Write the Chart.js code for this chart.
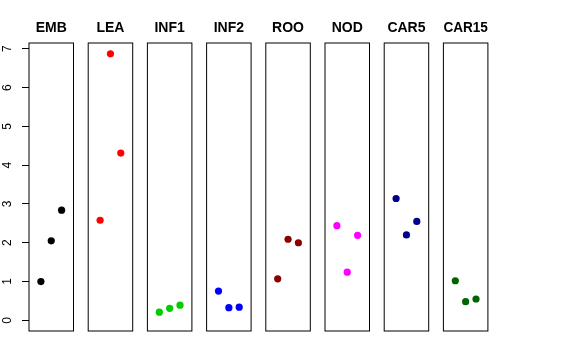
<!DOCTYPE html>
<html>
<head>
<meta charset="utf-8">
<script src="https://cdn.jsdelivr.net/npm/chart.js@4/dist/chart.umd.min.js"></script>
<style>
  html, body { margin: 0; padding: 0; background: #fff; }
  #wrap { position: relative; width: 576px; height: 360px; overflow: hidden; }
  #wrap canvas { position: absolute; left: 0; top: 0; }
</style>
</head>
<body>
<div id="wrap"></div>
<script>
// ---- data ----
const categories = ['EMB', 'LEA', 'INF1', 'INF2', 'ROO', 'NOD', 'CAR5', 'CAR15'];
const embValues   = [1.00, 2.05, 2.84];
const leaValues   = [2.58, 6.87, 4.31];
const inf1Values  = [0.21, 0.31, 0.39];
const inf2Values  = [0.755, 0.325, 0.34];
const rooValues   = [1.07, 2.09, 2.00];
const nodValues   = [2.44, 1.24, 2.19];
const car5Values  = [3.14, 2.20, 2.55];
const car15Values = [1.02, 0.48, 0.55];
const seriesValues = [embValues, leaValues, inf1Values, inf2Values, rooValues, nodValues, car5Values, car15Values];
const seriesColors = ['#000000', '#FF0000', '#00CD00', '#0000FF', '#8B0000', '#FF00FF', '#00008B', '#006400'];
const yTickLabels = [0, 1, 2, 3, 4, 5, 6, 7];

// ---- layout ----
const W = 576, H = 360;
const firstLeft = 29, panelStep = 59.2, panelWidth = 44.5;
const plotTop = 43, plotBottom = 331;
const yMin = -0.275, yMax = 7.148;
const xMin = -0.15, xMax = 4.15;

const boxPlugin = {
  id: 'panelBox',
  afterDraw(chart) {
    const {ctx, chartArea: a} = chart;
    ctx.save();
    ctx.strokeStyle = '#000';
    ctx.lineWidth = 1;
    ctx.strokeRect(a.left, a.top, a.right - a.left, a.bottom - a.top);
    ctx.restore();
  }
};

const wrap = document.getElementById('wrap');
categories.forEach((cat, i) => {
  const canvas = document.createElement('canvas');
  canvas.width = W; canvas.height = H;
  canvas.style.width = W + 'px'; canvas.style.height = H + 'px';
  wrap.appendChild(canvas);
  const left = firstLeft + panelStep * i;
  const right = left + panelWidth;
  const showY = i === 0;
  new Chart(canvas, {
    type: 'scatter',
    data: {
      datasets: [{
        label: cat,
        data: seriesValues[i].map((v, j) => ({x: j + 1, y: v})),
        backgroundColor: seriesColors[i],
        borderColor: seriesColors[i],
        borderWidth: 0,
        pointRadius: 3.6,
        pointHoverRadius: 3.6
      }]
    },
    options: {
      responsive: false,
      animation: false,
      devicePixelRatio: 1,
      events: [],
      layout: {
        padding: { left: showY ? 0 : left, right: W - right, top: 0, bottom: H - plotBottom }
      },
      plugins: {
        legend: { display: false },
        tooltip: { enabled: false },
        title: {
          display: true,
          text: cat,
          fullSize: false,
          color: '#000',
          font: { family: '"Liberation Sans", Arial, sans-serif', size: 14, weight: 'bold', lineHeight: 1.2 },
          padding: { top: 20, bottom: plotTop - 20 - 16.8 }
        }
      },
      scales: {
        x: { type: 'linear', min: xMin, max: xMax, display: false },
        y: {
          type: 'linear',
          min: yMin, max: yMax,
          display: showY,
          afterBuildTicks: (s) => { s.ticks = yTickLabels.map(v => ({value: v})); },
          afterFit: (s) => { s.width = showY ? firstLeft : 0; },
          border: { display: false },
          grid: { display: true, drawOnChartArea: false, drawTicks: true, tickLength: 7, color: '#000', lineWidth: 1 },
          ticks: {
            color: '#000',
            minRotation: 90, maxRotation: 90,
            crossAlign: 'center',
            padding: 11,
            font: { family: '"Liberation Sans", Arial, sans-serif', size: 12 },
            callback: (v) => String(v)
          }
        }
      }
    },
    plugins: [boxPlugin]
  });
});
</script>
</body>
</html>
